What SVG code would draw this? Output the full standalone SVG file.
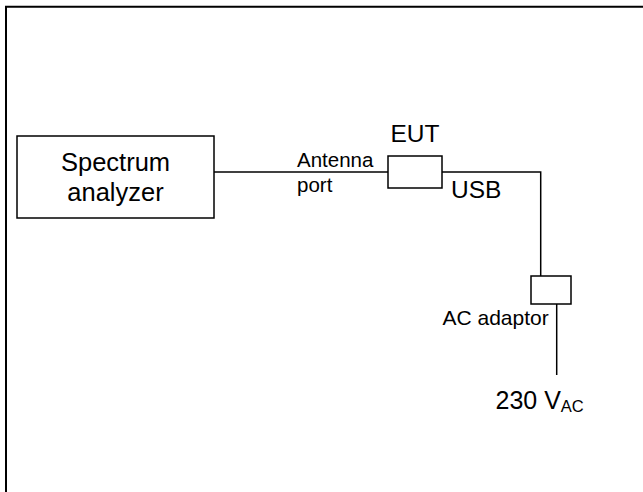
<svg xmlns="http://www.w3.org/2000/svg" width="643" height="492" viewBox="0 0 643 492">
<style>
.box{fill:#fff;stroke:#000;stroke-width:1.5}
.ln{fill:none;stroke:#000;stroke-width:1.5}
.t{font-family:"Liberation Sans",Arial,sans-serif;fill:#000}
</style>
<rect width="643" height="492" fill="#fff"/>
<path d="M6,492 V6.7 H643" fill="none" stroke="#000" stroke-width="2"/>
<g id="connectors">
<path class="ln" d="M214,172 H388"/>
<path class="ln" d="M442,172 H540.7 V276"/>
<path class="ln" d="M556.7,304 V375"/>
</g>
<g id="spectrum-analyzer">
<rect class="box" x="17" y="136" width="197" height="82"/>
<text class="t" x="115.5" y="171" font-size="25.5" text-anchor="middle">Spectrum</text>
<text class="t" x="115.5" y="201" font-size="25.5" text-anchor="middle">analyzer</text>
</g>
<g id="antenna-port">
<text class="t" x="297" y="167" font-size="20.5">Antenna</text>
<text class="t" x="297" y="192" font-size="20.5">port</text>
</g>
<g id="eut">
<rect class="box" x="388" y="156" width="54" height="32"/>
<text class="t" x="415" y="142" font-size="24.5" text-anchor="middle">EUT</text>
</g>
<g id="usb">
<text class="t" x="451" y="198" font-size="24.5">USB</text>
</g>
<g id="ac-adaptor">
<rect class="box" x="531" y="276" width="40" height="28"/>
<text class="t" x="442.5" y="325" font-size="21">AC adaptor</text>
</g>
<g id="mains">
<text class="t" x="495.5" y="409" font-size="25">230 V<tspan font-size="16.5" dy="3">AC</tspan></text>
</g>
</svg>
